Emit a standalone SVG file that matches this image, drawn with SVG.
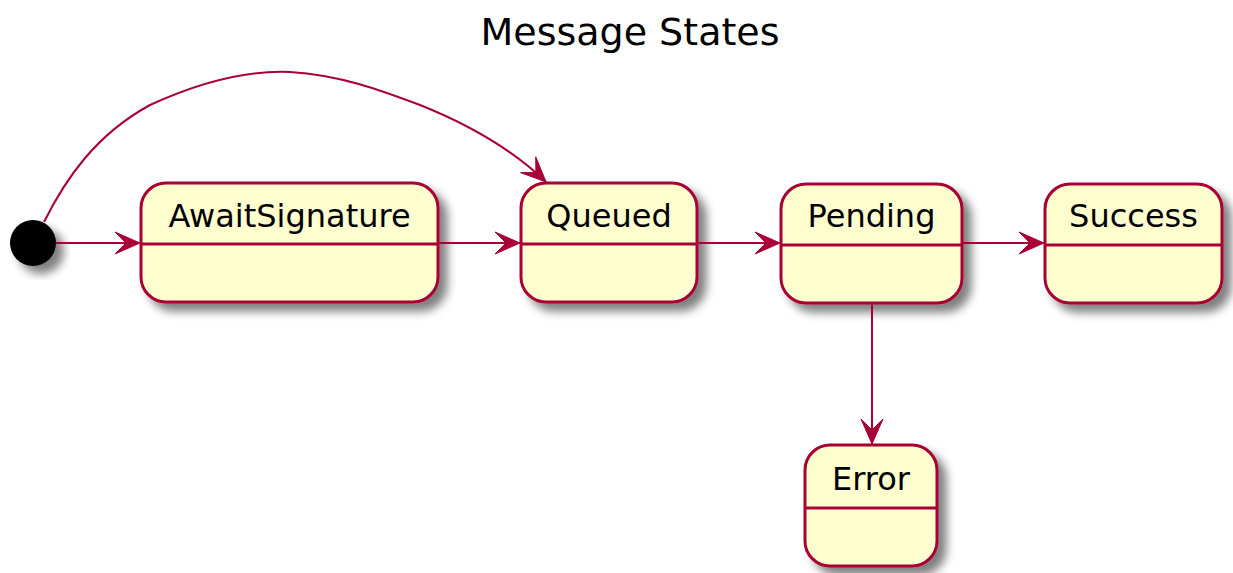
<svg xmlns="http://www.w3.org/2000/svg" width="1233" height="573" viewBox="0 0 1233 573">
<style>
.state{fill:#FEFECE;stroke:#A80036;stroke-width:3;}
.div{stroke:#A80036;stroke-width:3;fill:none;}
.lbl{font-family:"DejaVu Sans",Verdana,sans-serif;font-size:32px;fill:#000;text-anchor:middle;}
.edge{stroke:#A80036;stroke-width:2;fill:none;}
.title{font-family:"DejaVu Sans",Verdana,sans-serif;font-size:38px;fill:#000;text-anchor:middle;}
</style>
<defs>
<filter id="sh" x="-20%" y="-20%" width="150%" height="150%">
<feGaussianBlur in="SourceAlpha" stdDeviation="5"/>
<feOffset dx="8" dy="8" result="b"/>
<feComponentTransfer><feFuncA type="linear" slope="0.5"/></feComponentTransfer>
<feMerge><feMergeNode/><feMergeNode in="SourceGraphic"/></feMerge>
</filter>
<marker id="arr" markerUnits="userSpaceOnUse" viewBox="-27 -13 29 26" markerWidth="29" markerHeight="26" refX="0" refY="0" orient="auto">
<path d="M0,0 L-25,-11 L-14,0 L-25,11 Z" fill="#A80036" stroke="#A80036" stroke-width="1"/>
</marker>
</defs>
<rect width="1233" height="573" fill="#FFFFFF"/>
<text class="title" x="630" y="45">Message States</text>
<g id="start"><circle cx="33" cy="243" r="23" fill="#000" filter="url(#sh)"/></g>
<g id="AwaitSignature"><rect class="state" x="141" y="183" width="297" height="119" rx="25" filter="url(#sh)"/><line class="div" x1="141" y1="244" x2="438" y2="244"/><text class="lbl" x="289.5" y="227">AwaitSignature</text></g>
<g id="Queued"><rect class="state" x="521" y="183" width="176" height="119" rx="25" filter="url(#sh)"/><line class="div" x1="521" y1="244" x2="697" y2="244"/><text class="lbl" x="609" y="227">Queued</text></g>
<g id="Pending"><rect class="state" x="781" y="184" width="181" height="119" rx="25" filter="url(#sh)"/><line class="div" x1="781" y1="245" x2="962" y2="245"/><text class="lbl" x="871.5" y="227">Pending</text></g>
<g id="Success"><rect class="state" x="1045" y="184" width="177" height="119" rx="25" filter="url(#sh)"/><line class="div" x1="1045" y1="245" x2="1222" y2="245"/><text class="lbl" x="1133.5" y="227">Success</text></g>
<g id="Error"><rect class="state" x="805" y="445" width="132" height="121" rx="25" filter="url(#sh)"/><line class="div" x1="805" y1="508" x2="937" y2="508"/><text class="lbl" x="871" y="490">Error</text></g>
<g id="connectors">
<path class="edge" d="M56,243 L140,243" marker-end="url(#arr)"/>
<path class="edge" d="M439,243 L520,243" marker-end="url(#arr)"/>
<path class="edge" d="M698,243 L780,243" marker-end="url(#arr)"/>
<path class="edge" d="M963,243 L1044,243" marker-end="url(#arr)"/>
<path class="edge" d="M872,304 L872,444" marker-end="url(#arr)"/>
<path class="edge" d="M44,222 C65,180 95,135 150,105 C200,82 245,70 290,72 C340,75 380,90 420,105 C470,125 515,152 546,182" marker-end="url(#arr)"/>
</g>
</svg>
